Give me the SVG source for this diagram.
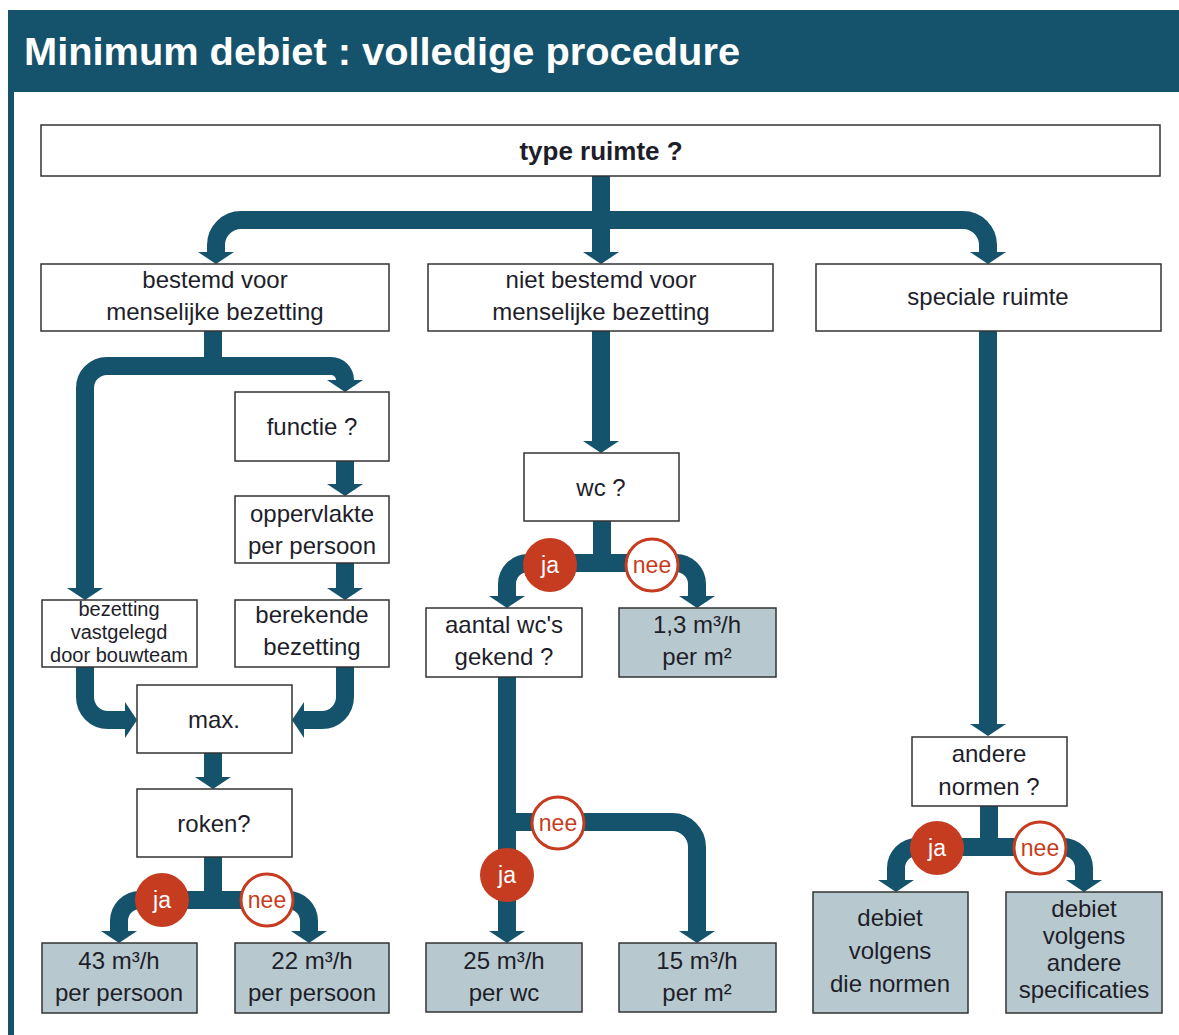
<svg xmlns="http://www.w3.org/2000/svg" width="1179" height="1035" viewBox="0 0 1179 1035">
<defs>
<marker id="ah" markerUnits="userSpaceOnUse" viewBox="0 0 12 36" refX="0" refY="18" markerWidth="12" markerHeight="36" orient="auto">
<path d="M0,0 L12,18 L0,36 Z" fill="#15526b"/>
</marker>
<style>
.box{fill:#fff;stroke:#333;stroke-width:1.5}
.res{fill:#b7c9ce;stroke:#333;stroke-width:1.5}
.t{font-family:"Liberation Sans",Arial,sans-serif;font-size:24px;fill:#1e1e2a;text-anchor:middle}
.ts{font-size:20px}
.b{font-weight:bold;font-size:26px}
.c{fill:none;stroke:#15526b;stroke-width:18;marker-end:url(#ah)}
.cn{fill:none;stroke:#15526b;stroke-width:18}
.ja{fill:#c63c20}
.nee{fill:#fff;stroke:#c63c20;stroke-width:3}
.jt{font-family:"Liberation Sans",Arial,sans-serif;font-size:23px;fill:#fff;text-anchor:middle}
.nt{font-family:"Liberation Sans",Arial,sans-serif;font-size:23px;fill:#c63c20;text-anchor:middle}
</style>
</defs>
<rect x="0" y="0" width="1179" height="1035" fill="#fff"/>
<rect x="8" y="10" width="1171" height="82" fill="#15526b"/>
<rect x="8" y="92" width="6" height="943" fill="#15526b"/>
<text x="24" y="65" font-family="'Liberation Sans',Arial,sans-serif" font-weight="bold" font-size="38" fill="#fff" textLength="716" lengthAdjust="spacingAndGlyphs">Minimum debiet : volledige procedure</text>

<g id="connectors">
<path class="cn" d="M601,176 V220"/>
<path class="c" d="M601,220 H241 A25,25 0 0 0 216,245 V252"/>
<path class="c" d="M601,176 V252"/>
<path class="c" d="M601,220 H963 A25,25 0 0 1 988,245 V252"/>
<path class="cn" d="M213,331 V366"/>
<path class="c" d="M213,366 H107 A22,22 0 0 0 85,388 V588"/>
<path class="c" d="M213,366 H331 A14,14 0 0 1 345,380"/>
<path class="c" d="M345,461 V484"/>
<path class="c" d="M345,563 V588"/>
<path class="c" d="M85,667 V697 A23,23 0 0 0 108,720 H125"/>
<path class="c" d="M345,667 V697 A23,23 0 0 1 322,720 H304"/>
<path class="c" d="M213,753 V777"/>
<path class="cn" d="M213,857 V900"/>
<path class="c" d="M213,900 H140 A21,21 0 0 0 119,921 V931"/>
<path class="c" d="M213,900 H288 A21,21 0 0 1 309,921 V931"/>
<path class="c" d="M601,331 V441"/>
<path class="cn" d="M602,521 V563"/>
<path class="c" d="M602,563 H528 A21,21 0 0 0 507,584 V596"/>
<path class="c" d="M602,563 H676 A21,21 0 0 1 697,584 V596"/>
<path class="c" d="M507,677 V931"/>
<path class="c" d="M507,822 H672 A25,25 0 0 1 697,847 V931"/>
<path class="c" d="M988,331 V724"/>
<path class="cn" d="M989,805 V847"/>
<path class="c" d="M989,847 H917 A21,21 0 0 0 896,868 V880"/>
<path class="c" d="M989,847 H1063 A21,21 0 0 1 1084,868 V880"/>
<circle class="ja" cx="162" cy="900" r="27"/><text class="jt" x="162" y="908">ja</text>
<circle class="nee" cx="267" cy="900" r="26"/><text class="nt" x="267" y="908">nee</text>
<circle class="ja" cx="550" cy="565" r="27"/><text class="jt" x="550" y="573">ja</text>
<circle class="nee" cx="652" cy="565" r="26"/><text class="nt" x="652" y="573">nee</text>
<circle class="nee" cx="558" cy="823" r="26"/><text class="nt" x="558" y="831">nee</text>
<circle class="ja" cx="507" cy="875" r="27"/><text class="jt" x="507" y="883">ja</text>
<circle class="ja" cx="937" cy="848" r="27"/><text class="jt" x="937" y="856">ja</text>
<circle class="nee" cx="1040" cy="848" r="26"/><text class="nt" x="1040" y="856">nee</text>
</g>

<g id="type"><rect class="box" x="41" y="125" width="1119" height="51"/><text class="t b" x="601" y="160">type ruimte ?</text></g>
<g id="bestemd"><rect class="box" x="41" y="264" width="348" height="67"/><text class="t" x="215" y="288">bestemd voor</text><text class="t" x="215" y="320">menselijke bezetting</text></g>
<g id="nietbestemd"><rect class="box" x="428" y="264" width="345" height="67"/><text class="t" x="601" y="288">niet bestemd voor</text><text class="t" x="601" y="320">menselijke bezetting</text></g>
<g id="speciale"><rect class="box" x="816" y="264" width="345" height="67"/><text class="t" x="988" y="305">speciale ruimte</text></g>
<g id="functie"><rect class="box" x="235" y="392" width="154" height="69"/><text class="t" x="312" y="435">functie ?</text></g>
<g id="oppervlakte"><rect class="box" x="235" y="496" width="154" height="67"/><text class="t" x="312" y="522">oppervlakte</text><text class="t" x="312" y="554">per persoon</text></g>
<g id="vastgelegd"><rect class="box" x="42" y="600" width="155" height="67"/><text class="t ts" x="119" y="616">bezetting</text><text class="t ts" x="119" y="639">vastgelegd</text><text class="t ts" x="119" y="662">door bouwteam</text></g>
<g id="berekende"><rect class="box" x="235" y="600" width="154" height="67"/><text class="t" x="312" y="623">berekende</text><text class="t" x="312" y="655">bezetting</text></g>
<g id="max"><rect class="box" x="137" y="685" width="155" height="68"/><text class="t" x="214" y="728">max.</text></g>
<g id="roken"><rect class="box" x="137" y="789" width="155" height="68"/><text class="t" x="214" y="832">roken?</text></g>
<g id="r43"><rect class="res" x="42" y="943" width="155" height="70"/><text class="t" x="119" y="969">43 m³/h</text><text class="t" x="119" y="1001">per persoon</text></g>
<g id="r22"><rect class="res" x="235" y="943" width="154" height="70"/><text class="t" x="312" y="969">22 m³/h</text><text class="t" x="312" y="1001">per persoon</text></g>
<g id="wc"><rect class="box" x="524" y="453" width="155" height="68"/><text class="t" x="601" y="496">wc ?</text></g>
<g id="aantal"><rect class="box" x="426" y="608" width="156" height="69"/><text class="t" x="504" y="633">aantal wc's</text><text class="t" x="504" y="665">gekend ?</text></g>
<g id="r13"><rect class="res" x="619" y="608" width="157" height="69"/><text class="t" x="697" y="633">1,3 m³/h</text><text class="t" x="697" y="665">per m²</text></g>
<g id="r25"><rect class="res" x="426" y="943" width="156" height="69"/><text class="t" x="504" y="969">25 m³/h</text><text class="t" x="504" y="1001">per wc</text></g>
<g id="r15"><rect class="res" x="619" y="943" width="157" height="69"/><text class="t" x="697" y="969">15 m³/h</text><text class="t" x="697" y="1001">per m²</text></g>
<g id="andere"><rect class="box" x="912" y="737" width="155" height="69"/><text class="t" x="989" y="762">andere</text><text class="t" x="989" y="795">normen ?</text></g>
<g id="dienormen"><rect class="res" x="813" y="892" width="155" height="121"/><text class="t" x="890" y="926">debiet</text><text class="t" x="890" y="959">volgens</text><text class="t" x="890" y="992">die normen</text></g>
<g id="specificaties"><rect class="res" x="1006" y="892" width="156" height="121"/><text class="t" x="1084" y="917">debiet</text><text class="t" x="1084" y="944">volgens</text><text class="t" x="1084" y="971">andere</text><text class="t" x="1084" y="998">specificaties</text></g>
</svg>
